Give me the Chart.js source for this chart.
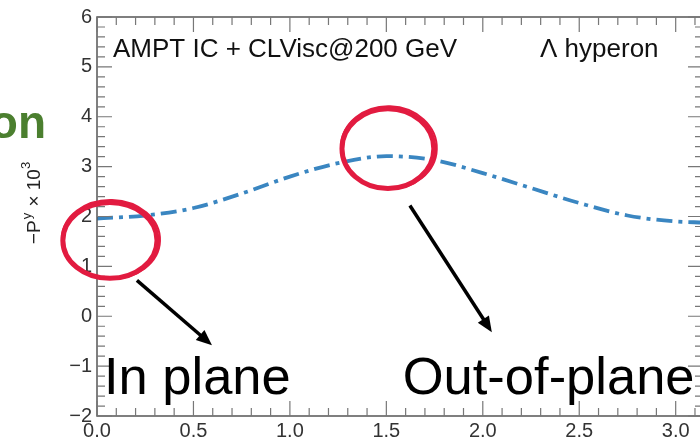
<!DOCTYPE html>
<html lang="en">
<head>
    <meta charset="UTF-8">
    <title>Lambda polarization vs azimuth</title>
    <script src="https://cdn.jsdelivr.net/npm/chart.js"></script>
    <style>
        html, body { margin: 0; padding: 0; background: #fff; overflow: hidden; }
        #wrap { width: 710px; height: 438px; }
    </style>
</head>
<body>
    <div id="wrap"><canvas id="polChart" width="710" height="438"></canvas></div>

    <script>
        // azimuthal angle (rad) and -P^y x 10^3
        const phi = [0, 0.25, 0.5, 0.75, 1.0, 1.25, 1.5, 1.75, 2.0, 2.25, 2.5, 2.75, 3.0, 3.1416];
        const polY = [1.96, 2.02, 2.17, 2.46, 2.80, 3.07, 3.21, 3.13, 2.87, 2.57, 2.27, 2.02, 1.90, 1.88];

        const xTicks = [0, 0.5, 1.0, 1.5, 2.0, 2.5, 3.0];
        const yTicks = [-2, -1, 0, 1, 2, 3, 4, 5, 6];

        // slide annotations, placed in data coordinates
        const circles = [
            { x: 0.067, y: 1.52, rx: 0.244, ry: 0.76 },
            { x: 1.508, y: 3.36, rx: 0.238, ry: 0.80 }
        ];
        const arrows = [
            { x0: 0.207, y0: 0.72, x1: 0.596, y1: -0.58 },
            { x0: 1.622, y0: 2.22, x1: 2.047, y1: -0.32 }
        ];
        const bigLabels = [
            { text: 'In plane', x: 0.036, y: -1.56 },
            { text: 'Out-of-plane', x: 1.585, y: -1.56 }
        ];

        const FONT = '"Liberation Sans", Arial, sans-serif';

        const frame = {
            id: 'frame',
            afterDraw(chart) {
                const ctx = chart.ctx;
                const a = chart.chartArea;
                const xs = chart.scales.x, ys = chart.scales.y;
                ctx.save();

                // box
                ctx.strokeStyle = '#555';
                ctx.lineWidth = 1.5;
                ctx.strokeRect(a.left, a.top, a.right - a.left, a.bottom - a.top);

                // inward ticks on all four sides
                ctx.strokeStyle = '#777';
                ctx.lineWidth = 1.2;
                ctx.beginPath();
                for (let i = 0; i <= 32; i++) {
                    const px = xs.getPixelForValue(i * 0.1);
                    if (px > a.right) break;
                    const len = (i % 5 === 0) ? 15 : 8;
                    ctx.moveTo(px, a.bottom); ctx.lineTo(px, a.bottom - len);
                    ctx.moveTo(px, a.top); ctx.lineTo(px, a.top + len);
                }
                for (let i = 0; i <= 40; i++) {
                    const py = ys.getPixelForValue(-2 + i * 0.2);
                    const len = (i % 5 === 0) ? 15 : 8;
                    ctx.moveTo(a.left, py); ctx.lineTo(a.left + len, py);
                    ctx.moveTo(a.right, py); ctx.lineTo(a.right - len, py);
                }
                ctx.stroke();

                // texts inside the frame
                ctx.fillStyle = '#111';
                ctx.font = '26px ' + FONT;
                ctx.textBaseline = 'alphabetic';
                ctx.textAlign = 'left';
                ctx.fillText('AMPT IC + CLVisc@200 GeV', 113, 57);
                ctx.fillText('\u039b hyperon', 540, 57);

                // y axis title
                ctx.save();
                ctx.translate(40, 203);
                ctx.rotate(-Math.PI / 2);
                ctx.fillStyle = '#222';
                const big = '19px ' + FONT, small = '13px ' + FONT;
                ctx.textAlign = 'left';
                ctx.font = big;
                const t = '\u2212P', mid = ' \u00d7 10';
                const w = ctx.measureText(t).width;
                const wMid = ctx.measureText(mid).width;
                ctx.font = small;
                const wS1 = ctx.measureText('y').width + 2;
                const wS2 = ctx.measureText('3').width;
                let x = -(w + wS1 + wMid + wS2) / 2;
                ctx.font = big;
                ctx.fillText(t, x, 0); x += w;
                ctx.font = small;
                ctx.fillText('y', x + 1, -9); x += wS1;
                ctx.font = big;
                ctx.fillText(mid, x, 0); x += wMid;
                ctx.font = small;
                ctx.fillText('3', x, -10);
                ctx.restore();

                // slide overlay: red circles
                ctx.strokeStyle = '#e21b40';
                circles.forEach(c => {
                    const cx = xs.getPixelForValue(c.x), cy = ys.getPixelForValue(c.y);
                    const rx = xs.getPixelForValue(c.x + c.rx) - cx;
                    const ry = cy - ys.getPixelForValue(c.y + c.ry);
                    ctx.lineWidth = 5;
                    ctx.beginPath();
                    ctx.ellipse(cx, cy, rx, ry, 0, 0, Math.PI * 2);
                    ctx.stroke();
                    ctx.lineWidth = 2;
                    ctx.beginPath();
                    ctx.ellipse(cx + 1, cy - 1, rx + 2, ry + 1.5, 0.03, 0, Math.PI * 2);
                    ctx.stroke();
                });

                // black arrows
                ctx.strokeStyle = '#000';
                ctx.fillStyle = '#000';
                ctx.lineWidth = 3.5;
                arrows.forEach(r => {
                    const x0 = xs.getPixelForValue(r.x0), y0 = ys.getPixelForValue(r.y0);
                    const x1 = xs.getPixelForValue(r.x1), y1 = ys.getPixelForValue(r.y1);
                    const ang = Math.atan2(y1 - y0, x1 - x0);
                    const head = 17;
                    ctx.beginPath();
                    ctx.moveTo(x0, y0);
                    ctx.lineTo(x1 - head * 0.8 * Math.cos(ang), y1 - head * 0.8 * Math.sin(ang));
                    ctx.stroke();
                    ctx.beginPath();
                    ctx.moveTo(x1, y1);
                    ctx.lineTo(x1 - head * Math.cos(ang - 0.4), y1 - head * Math.sin(ang - 0.4));
                    ctx.lineTo(x1 - head * Math.cos(ang + 0.4), y1 - head * Math.sin(ang + 0.4));
                    ctx.closePath();
                    ctx.fill();
                });

                // big slide labels
                ctx.font = '52.5px ' + FONT;
                ctx.textAlign = 'left';
                bigLabels.forEach(b => {
                    ctx.fillText(b.text, xs.getPixelForValue(b.x), ys.getPixelForValue(b.y));
                });

                // slide title fragment at the far left
                ctx.fillStyle = '#4b7f2f';
                ctx.font = 'bold 46px ' + FONT;
                ctx.textAlign = 'right';
                ctx.fillText('tion', 46, 138);

                ctx.restore();
            }
        };

        const ctx = document.getElementById('polChart').getContext('2d');
        new Chart(ctx, {
            type: 'line',
            data: {
                datasets: [{
                    data: phi.map((v, i) => ({ x: v, y: polY[i] })),
                    borderColor: '#3a86c1',
                    borderWidth: 3.8,
                    borderDash: [16, 6, 4, 6],
                    pointRadius: 0,
                    cubicInterpolationMode: 'monotone',
                    fill: false
                }]
            },
            options: {
                responsive: false,
                animation: false,
                layout: { padding: { top: 16, right: 7, left: 0, bottom: 0 } },
                plugins: { legend: { display: false }, tooltip: { enabled: false } },
                scales: {
                    x: {
                        type: 'linear',
                        min: 0,
                        max: Math.PI,
                        grid: { display: false, drawTicks: false },
                        border: { display: false },
                        afterBuildTicks: s => { s.ticks = xTicks.map(v => ({ value: v })); },
                        afterFit: s => { s.height = 22; },
                        ticks: {
                            padding: 3,
                            maxRotation: 0,
                            color: '#333',
                            font: { family: FONT, size: 20 },
                            callback: v => v.toFixed(1)
                        }
                    },
                    y: {
                        min: -2,
                        max: 6,
                        grid: { display: false, drawTicks: false },
                        border: { display: false },
                        afterBuildTicks: s => { s.ticks = yTicks.map(v => ({ value: v })); },
                        afterFit: s => { s.width = 97; },
                        ticks: {
                            padding: 5,
                            color: '#333',
                            font: { family: FONT, size: 20 },
                            callback: v => (v < 0 ? '\u2212' + Math.abs(v) : String(v))
                        }
                    }
                }
            },
            plugins: [frame]
        });
    </script>
</body>
</html>
